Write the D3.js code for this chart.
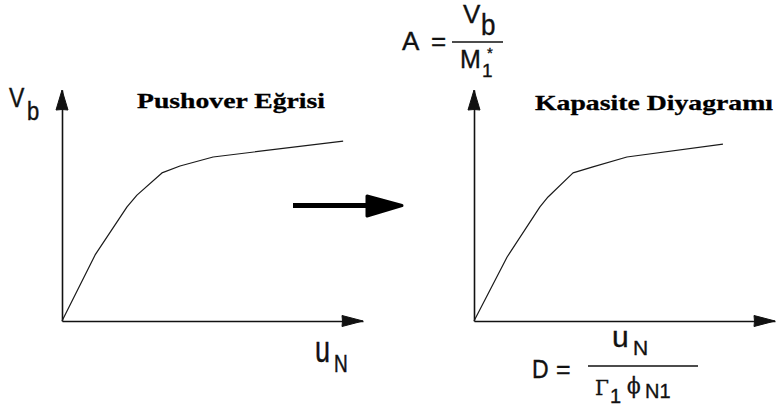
<!DOCTYPE html>
<html>
<head>
<meta charset="utf-8">
<script src="https://cdn.jsdelivr.net/npm/d3@7"></script>
<style>
  html, body { margin: 0; padding: 0; background: #fff; }
  svg { display: block; }
</style>
</head>
<body>
<svg id="chart" width="783" height="416"></svg>
<script>
// Pushover curve (base shear vs. roof displacement), normalised units
const pushoverX = [0, 11.0, 21.6, 24.9, 33.2, 39.2, 50.2, 93.4];
const pushoverY = [0, 28.6, 49.4, 54.5, 64.1, 67.1, 71.0, 77.9];

// Capacity diagram (spectral acceleration vs. spectral displacement)
const capacityX = [0, 11.0, 21.9, 24.6, 32.9, 39.5, 50.8, 82.7];
const capacityY = [0, 27.7, 49.4, 53.7, 64.1, 66.7, 71.0, 76.6];

const panelTitles = ["Pushover Eğrisi", "Kapasite Diyagramı"];

const svg = d3.select("#chart");
const ink = "#111";

// One panel per curve, sharing the same axis layout
const panels = [
  { xs: pushoverX, ys: pushoverY, left: 62, title: panelTitles[0], titleX: 137, titleY: 108, titleLen: 188 },
  { xs: capacityX, ys: capacityY, left: 474, title: panelTitles[1], titleX: 535, titleY: 110, titleLen: 238 }
];

panels.forEach(p => {
  const x = d3.scaleLinear().domain([0, 100]).range([p.left, p.left + 301]);
  const y = d3.scaleLinear().domain([0, 100]).range([321, 90]);
  const g = svg.append("g");

  // axes (domain line only)
  g.append("g").attr("transform", `translate(0,${y(0)})`)
    .call(d3.axisBottom(x).tickValues([]).tickSizeOuter(0))
    .call(s => s.select(".domain").attr("stroke", ink).attr("stroke-width", 1.6));
  g.append("g").attr("transform", `translate(${x(0)},0)`)
    .call(d3.axisLeft(y).tickValues([]).tickSizeOuter(0))
    .call(s => s.select(".domain").attr("stroke", ink).attr("stroke-width", 1.6));

  // arrowheads
  const x0 = x(0), y0 = y(0), xe = x(100), ye = y(100);
  g.append("path")
    .attr("d", `M${xe},${y0} L${xe - 21},${y0 - 5.5} Q${xe - 20},${y0} ${xe - 21},${y0 + 5.5} Z`)
    .attr("fill", ink).attr("stroke", ink).attr("stroke-width", 1).attr("stroke-linejoin", "round");
  g.append("path")
    .attr("d", `M${x0},${ye} L${x0 - 6},${ye + 20} Q${x0},${ye + 19} ${x0 + 6},${ye + 20} Z`)
    .attr("fill", ink).attr("stroke", ink).attr("stroke-width", 1).attr("stroke-linejoin", "round");

  // curve
  const pts = p.xs.map((v, i) => [v, p.ys[i]]);
  g.append("path")
    .datum(pts)
    .attr("d", d3.line().x(d => x(d[0])).y(d => y(d[1])))
    .attr("fill", "none").attr("stroke", "#1a1a1a").attr("stroke-width", 1.2)
    .attr("stroke-linejoin", "round");

  // panel title
  g.append("text")
    .attr("x", p.titleX).attr("y", p.titleY)
    .attr("font-family", "'Liberation Serif', 'Times New Roman', serif")
    .attr("font-weight", "bold").attr("font-size", 22)
    .attr("textLength", p.titleLen).attr("lengthAdjust", "spacingAndGlyphs")
    .attr("fill", "#000").attr("stroke", "#000").attr("stroke-width", 0.3)
    .text(p.title);
});

// text helper: baseline at (x, y), optional vertical stretch
const sans = "'Liberation Sans', Arial, Helvetica, sans-serif";
const serif = "'DejaVu Serif', 'Liberation Serif', serif";
function label(txt, x, y, size, sy = 1, family = sans) {
  svg.append("text")
    .attr("transform", `translate(${x},${y}) scale(1,${sy})`)
    .attr("font-family", family).attr("font-size", size)
    .attr("fill", "#111").attr("stroke", "#111").attr("stroke-width", 0.35)
    .text(txt);
}
function rule(x1, x2, yv) {
  svg.append("line").attr("x1", x1).attr("x2", x2).attr("y1", yv).attr("y2", yv)
    .attr("stroke", "#111").attr("stroke-width", 1.3);
}

// left axis labels
label("V", 9, 107, 23, 1.2);
label("b", 27, 120, 22, 1.15);
label("u", 315, 362, 27, 1.35);
label("N", 334, 372, 19, 1.25);

// A = Vb / M1*
label("A", 402, 50, 26);
label("=", 431, 50, 26);
rule(452, 503, 42);
label("V", 463, 23, 26);
label("b", 481, 35, 26, 1.1);
label("M", 460, 68, 25);
label("1", 482, 77, 19);
label("*", 487, 58, 15);

// D = uN / (Γ1 φN1)
label("D", 532, 378, 23, 1.1);
label("=", 556, 378, 25);
rule(588, 698, 366);
label("u", 612, 347, 30);
label("N", 633, 355, 21);
label("Γ", 595, 395, 20, 1.05, serif);
label("1", 610, 403, 20);
label("ϕ", 627, 393, 20, 1.15, serif);
label("N1", 645, 398, 20);

// transformation arrow between panels
svg.append("line").attr("x1", 293).attr("x2", 368).attr("y1", 205.5).attr("y2", 205.5)
  .attr("stroke", "#000").attr("stroke-width", 5);
svg.append("path")
  .attr("d", "M367,196 L402,205.5 L367,216 Z")
  .attr("fill", "#000").attr("stroke", "#000").attr("stroke-width", 3).attr("stroke-linejoin", "round");
</script>
</body>
</html>
